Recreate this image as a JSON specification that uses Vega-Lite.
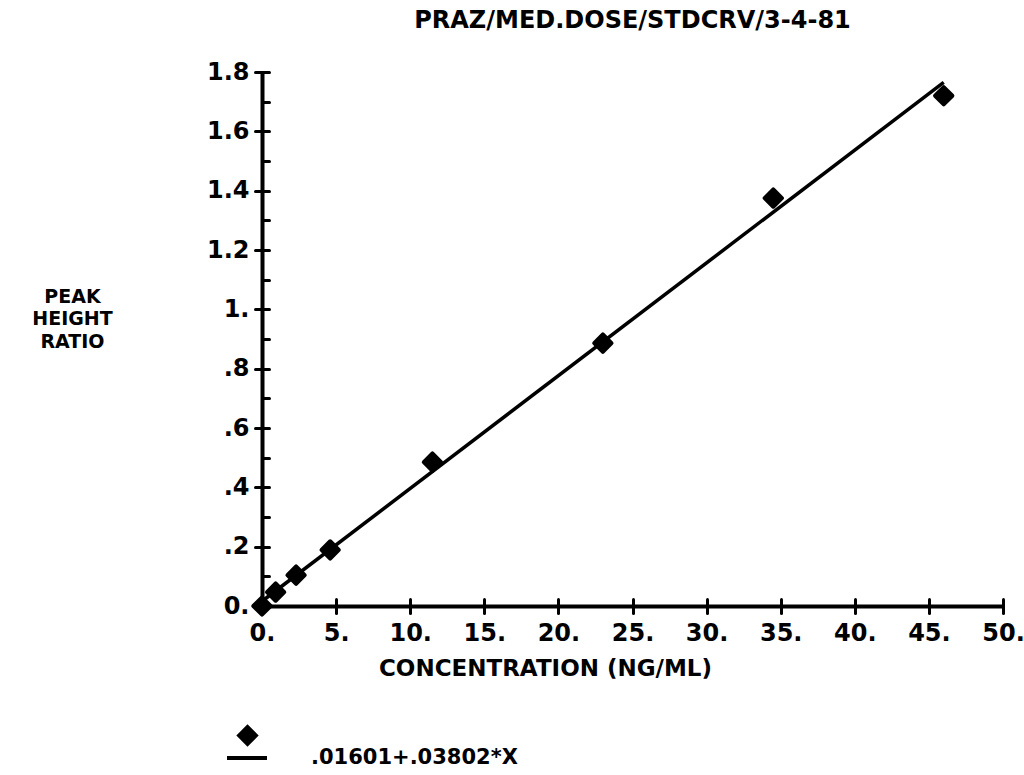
{
  "$schema": "https://vega.github.io/schema/vega-lite/v6.json",
  "width": 741,
  "height": 534,
  "autosize": {"type": "none"},
  "padding": {"left": 262, "top": 72, "right": 21, "bottom": 169},
  "background": "white",
  "title": {
    "text": "PRAZ/MED.DOSE/STDCRV/3-4-81",
    "anchor": "middle",
    "frame": "group",
    "font": "DejaVu Sans",
    "fontSize": 24,
    "fontWeight": "bold",
    "color": "black",
    "baseline": "alphabetic",
    "offset": 8
  },
  "config": {
    "view": {"stroke": null},
    "axis": {
      "grid": false,
      "domainColor": "black",
      "domainWidth": 4,
      "tickColor": "black",
      "tickWidth": 3,
      "tickCap": "round",
      "labelFont": "DejaVu Sans",
      "labelFontWeight": "bold",
      "labelFontSize": 24,
      "labelColor": "black",
      "labelOverlap": false,
      "labelFlush": false,
      "titleFont": "DejaVu Sans",
      "titleFontWeight": "bold",
      "titleColor": "black"
    },
    "legend": {
      "title": null,
      "labelFont": "DejaVu Sans",
      "labelFontWeight": "bold",
      "labelFontSize": 21,
      "labelColor": "black",
      "labelLimit": 500
    }
  },
  "datasets": {
    "points": [
      {"conc": 0, "ratio": 0, "series": "pts"},
      {"conc": 0.92, "ratio": 0.047, "series": "pts"},
      {"conc": 2.3, "ratio": 0.104, "series": "pts"},
      {"conc": 4.6, "ratio": 0.189, "series": "pts"},
      {"conc": 11.5, "ratio": 0.485, "series": "pts"},
      {"conc": 23, "ratio": 0.886, "series": "pts"},
      {"conc": 34.5, "ratio": 1.375, "series": "pts"},
      {"conc": 46, "ratio": 1.72, "series": "pts"}
    ],
    "fit": [
      {"conc": 0, "ratio": 0.016, "series": ".01601+.03802*X"},
      {"conc": 46, "ratio": 1.765, "series": ".01601+.03802*X"}
    ]
  },
  "layer": [
    {
      "data": {"name": "fit"},
      "mark": {"type": "line", "strokeWidth": 3.5},
      "encoding": {
        "x": {
          "field": "conc", "type": "quantitative",
          "scale": {"domain": [0, 50], "nice": false, "zero": false},
          "axis": {
            "orient": "bottom",
            "values": [0, 5, 10, 15, 20, 25, 30, 35, 40, 45, 50],
            "tickSize": 7,
            "labelPadding": 8,
            "labelExpr": "format(datum.value, 'd') + '.'",
            "title": "CONCENTRATION  (NG/ML)",
            "titleFontSize": 23,
            "titleX": 283,
            "titleY": 51,
            "titleAlign": "center",
            "titleBaseline": "top"
          }
        },
        "y": {
          "field": "ratio", "type": "quantitative",
          "scale": {"domain": [0, 1.8], "nice": false, "zero": false},
          "axis": {
            "orient": "left",
            "values": [0, 0.2, 0.4, 0.6, 0.8, 1, 1.2, 1.4, 1.6, 1.8],
            "tickSize": 7,
            "labelPadding": 6,
            "labelBaseline": "middle",
            "labelExpr": "datum.value == 0 ? '0.' : datum.value == 1 ? '1.' : datum.value < 1 ? replace(format(datum.value, '.1f'), '0.', '.') : format(datum.value, '.1f')",
            "title": ["PEAK", "HEIGHT", "RATIO"],
            "titleFontSize": 19,
            "titleAngle": 0,
            "titleAlign": "center",
            "titleBaseline": "top",
            "titleLineHeight": 22.5,
            "titleX": -190,
            "titleY": 215
          }
        },
        "color": {
          "field": "series", "type": "nominal",
          "scale": {"range": ["black"]},
          "legend": {
            "orient": "none",
            "legendX": -37,
            "legendY": 664,
            "symbolType": "stroke",
            "symbolSize": 1600,
            "symbolStrokeWidth": 4,
            "symbolStrokeColor": "black",
            "labelOffset": 42
          }
        }
      }
    },
    {
      "data": {"name": "points"},
      "mark": {"type": "point", "filled": true, "fill": "black", "stroke": "black", "strokeWidth": 4, "strokeJoin": "round", "opacity": 1, "size": 300},
      "encoding": {
        "x": {
          "field": "conc", "type": "quantitative",
          "axis": {
            "orient": "bottom",
            "values": [0, 5, 10, 15, 20, 25, 30, 35, 40, 45, 50],
            "tickSize": -7,
            "labels": false,
            "domain": false,
            "title": null
          }
        },
        "y": {
          "field": "ratio", "type": "quantitative",
          "axis": {
            "orient": "left",
            "values": [0, 0.1, 0.2, 0.3, 0.4, 0.5, 0.6, 0.7, 0.8, 0.9, 1, 1.1, 1.2, 1.3, 1.4, 1.5, 1.6, 1.7, 1.8],
            "tickSize": -7,
            "labels": false,
            "domain": false,
            "title": null
          }
        },
        "shape": {
          "field": "series", "type": "nominal",
          "scale": {"range": ["diamond"]},
          "legend": {
            "orient": "none",
            "legendX": -28,
            "legendY": 650,
            "symbolSize": 500,
            "symbolStrokeWidth": 4,
            "symbolStrokeColor": "black",
            "symbolFillColor": "black",
            "labelExpr": "''"
          }
        }
      }
    }
  ],
  "resolve": {"axis": {"x": "independent", "y": "independent"}}
}
